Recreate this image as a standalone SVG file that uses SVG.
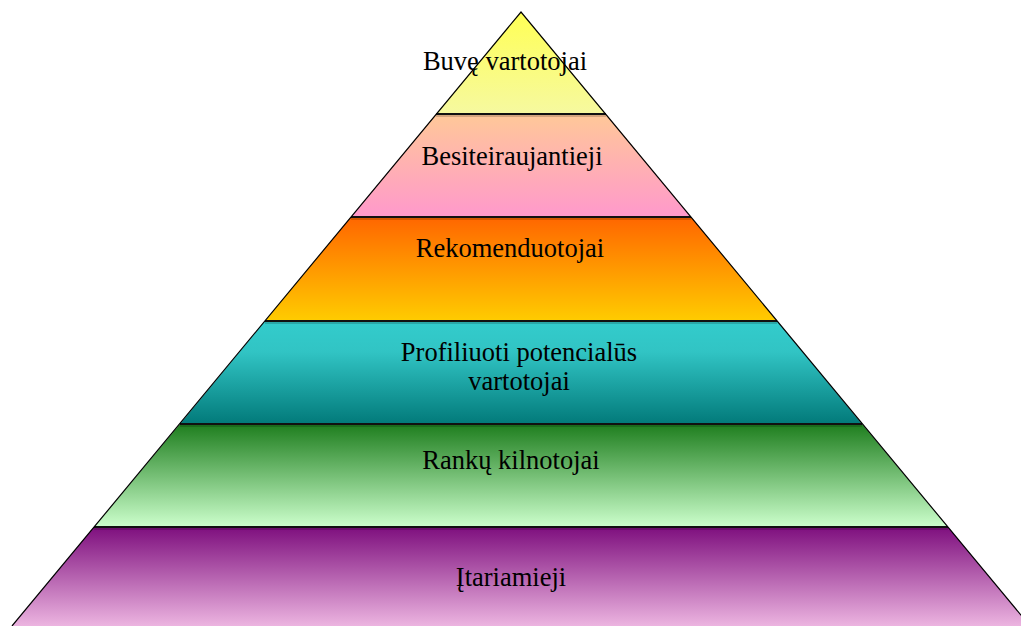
<svg xmlns="http://www.w3.org/2000/svg" width="1021" height="626" viewBox="0 0 1021 626">
<style>
.lbl{font-family:"Liberation Serif","Times New Roman",serif;font-size:26.5px;fill:#000;text-anchor:middle}
.sep{stroke:#111;stroke-width:2.2}
.sh{stroke:#000;stroke-opacity:0.35;stroke-width:1}
.outline{fill:none;stroke:#000;stroke-width:1.2}
</style>
<defs>
<linearGradient id="g1" x1="0" y1="0" x2="0" y2="1"><stop offset="0" stop-color="#ffff55"/><stop offset="1" stop-color="#f6f9a0"/></linearGradient>
<linearGradient id="g2" x1="0" y1="0" x2="0" y2="1"><stop offset="0" stop-color="#ffc898"/><stop offset="1" stop-color="#ff99cc"/></linearGradient>
<linearGradient id="g3" x1="0" y1="0" x2="0" y2="1"><stop offset="0" stop-color="#ff6600"/><stop offset="1" stop-color="#ffcc00"/></linearGradient>
<linearGradient id="g4" x1="0" y1="0" x2="0" y2="1"><stop offset="0" stop-color="#33cccc"/><stop offset="0.3" stop-color="#31c4c4"/><stop offset="1" stop-color="#027a7a"/></linearGradient>
<linearGradient id="g5" x1="0" y1="0" x2="0" y2="1"><stop offset="0" stop-color="#1e7e1e"/><stop offset="1" stop-color="#ccffcc"/></linearGradient>
<linearGradient id="g6" x1="0" y1="0" x2="0" y2="1"><stop offset="0" stop-color="#7e0f7e"/><stop offset="1" stop-color="#ecb4e0"/></linearGradient>
</defs>
<g id="band1"><polygon points="521,12 606,114 436,114" fill="url(#g1)"/><text class="lbl" x="505" y="70">Buvę vartotojai</text></g>
<g id="band2"><polygon points="436,114 606,114 691,217 351,217" fill="url(#g2)"/><text class="lbl" x="512" y="165">Besiteiraujantieji</text></g>
<g id="band3"><polygon points="351,217 691,217 777,321 265,321" fill="url(#g3)"/><text class="lbl" x="510" y="257">Rekomenduotojai</text></g>
<g id="band4"><polygon points="265,321 777,321 862,424 180,424" fill="url(#g4)"/><text class="lbl" x="519" y="361">Profiliuoti potencialūs</text><text class="lbl" x="519" y="390">vartotojai</text></g>
<g id="band5"><polygon points="180,424 862,424 948,527 94,527" fill="url(#g5)"/><text class="lbl" x="511" y="469">Rankų kilnotojai</text></g>
<g id="band6"><polygon points="94,527 948,527 1030,626 12,626" fill="url(#g6)"/><text class="lbl" x="511" y="586">Įtariamieji</text></g>
<g id="connectors">
<line class="sh" x1="436" y1="116" x2="606" y2="116"/>
<line class="sep" x1="436" y1="114" x2="606" y2="114"/>
<line class="sh" x1="351" y1="219" x2="691" y2="219"/>
<line class="sep" x1="351" y1="217" x2="691" y2="217"/>
<line class="sh" x1="265" y1="323" x2="777" y2="323"/>
<line class="sep" x1="265" y1="321" x2="777" y2="321"/>
<line class="sh" x1="180" y1="426" x2="862" y2="426"/>
<line class="sep" x1="180" y1="424" x2="862" y2="424"/>
<line class="sh" x1="94" y1="529" x2="948" y2="529"/>
<line class="sep" x1="94" y1="527" x2="948" y2="527"/>
<polyline class="outline" points="12,626 521,12 1030,626"/>
</g>
</svg>
